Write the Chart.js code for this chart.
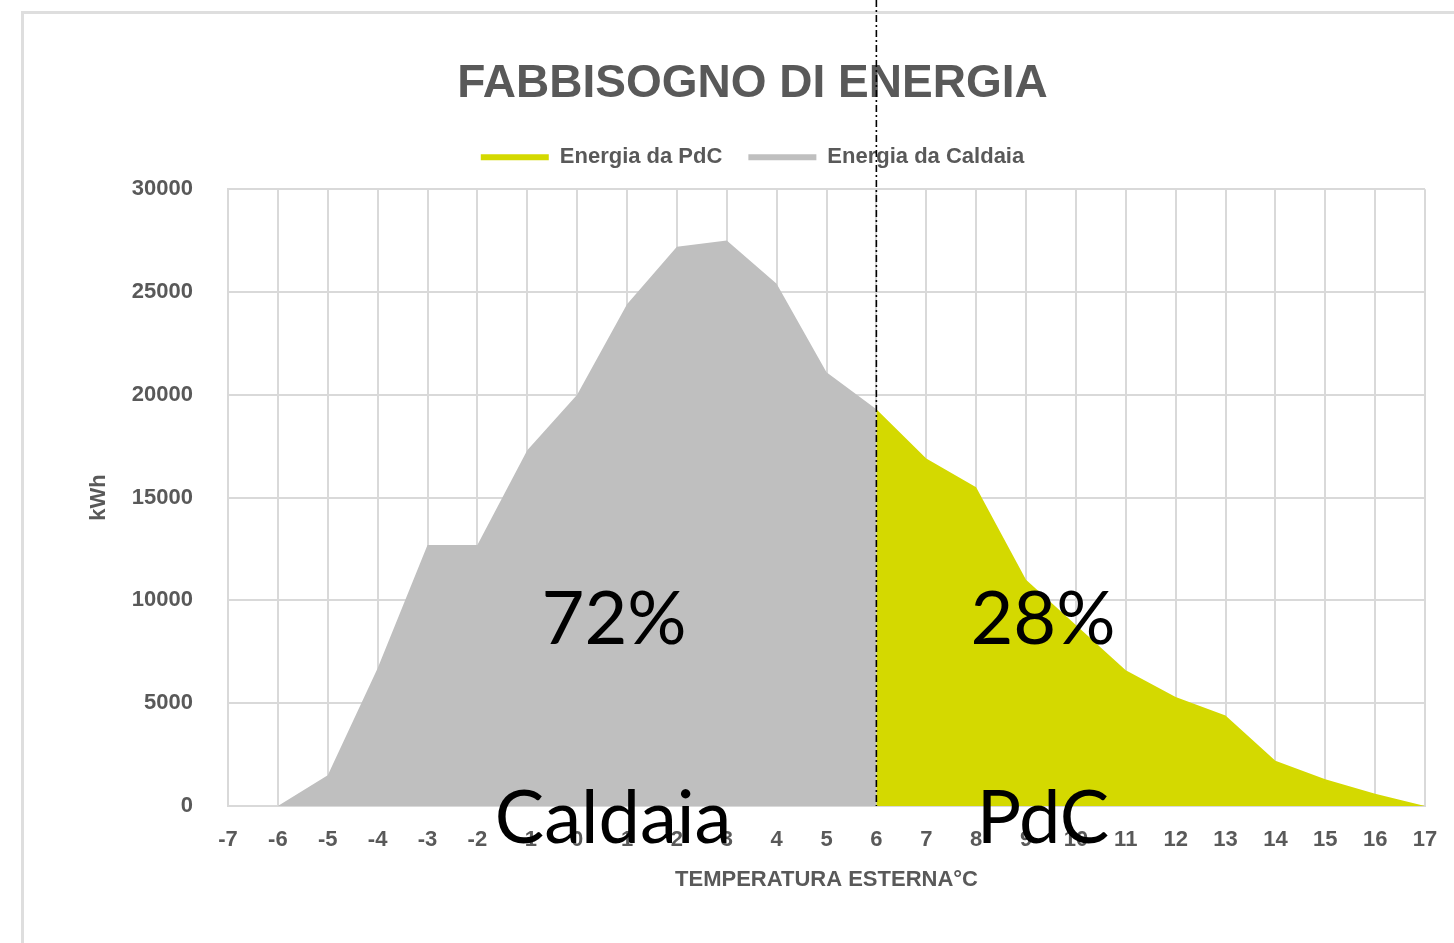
<!DOCTYPE html>
<html>
<head>
<meta charset="utf-8">
<title>Fabbisogno di energia</title>
<script src="https://cdn.jsdelivr.net/npm/chart.js@4.4.1/dist/chart.umd.min.js"></script>
<style>
    html, body { margin: 0; padding: 0; background: #ffffff; }
    #wrap { position: relative; width: 1454px; height: 943px; overflow: hidden; }
    #frame { position: absolute; left: 21px; top: 11px; right: 0; bottom: 0; border-top: 3px solid #dedede; border-left: 3px solid #dedede; }
    #energyChart { position: absolute; left: 0; top: 0; }
</style>
</head>
<body>
<div id="wrap">
    <div id="frame"></div>
    <canvas id="energyChart" width="1454" height="943"></canvas>
</div>
<script>
// temperature classes (°C)
const temperatures = ['-7', '-6', '-5', '-4', '-3', '-2', '-1', '0', '1', '2', '3', '4', '5', '6',
    '7', '8', '9', '10', '11', '12', '13', '14', '15', '16', '17'];

// kWh covered by the boiler (up to 6 °C) and by the heat pump (from 6 °C)
const caldaiaKwh = [0, 0, 1500, 6700, 12700, 12700, 17300, 20000, 24400, 27200, 27500, 25400, 21100, 19300,
    null, null, null, null, null, null, null, null, null, null, null];
const pdcKwh = [null, null, null, null, null, null, null, null, null, null, null, null, null, 19300,
    16900, 15500, 11000, 8800, 6600, 5300, 4400, 2200, 1300, 600, 0];

const yTicks = [0, 5000, 10000, 15000, 20000, 25000, 30000];

// big labels inside the areas: [text, category index, kWh at baseline]
const areaLabels = [
    ['72%', 7.74, 7900],
    ['Caldaia', 7.72, -1800],
    ['28%', 16.34, 7900],
    ['PdC', 16.34, -1800]
];
const splitTemperature = '6';

const GREY_TEXT = '#595959';
const GRID = '#d9d9d9';

const splitLine = {
    id: 'splitLine',
    beforeInit(chart) {
        // taller legend box so the plot starts where the original does
        const fit = chart.legend.fit;
        chart.legend.fit = function () {
            fit.call(this);
            this.height += 11;
        };
    },
    afterDraw(chart) {
        const ctx = chart.ctx;
        const x = chart.scales.x.getPixelForValue(temperatures.indexOf(splitTemperature));
        ctx.save();
        ctx.strokeStyle = '#000000';
        ctx.lineWidth = 1.6;
        ctx.setLineDash([7, 3, 2, 3]);
        ctx.beginPath();
        ctx.moveTo(x, 0);
        ctx.lineTo(x, chart.chartArea.bottom);
        ctx.stroke();
        ctx.setLineDash([]);

        ctx.fillStyle = '#000000';
        ctx.font = '74px Lato';
        ctx.textAlign = 'center';
        ctx.textBaseline = 'alphabetic';
        areaLabels.forEach(l => {
            const px = chart.scales.x.getPixelForValue(l[1]);
            const py = chart.scales.y.getPixelForValue(l[2]);
            ctx.fillText(l[0], px, py);
        });
        ctx.restore();
    }
};

const ctx = document.getElementById('energyChart').getContext('2d');
new Chart(ctx, {
    type: 'line',
    data: {
        labels: temperatures,
        datasets: [
            { label: 'Energia da PdC', data: pdcKwh, backgroundColor: '#d4d900', borderColor: '#d4d900', borderWidth: 0, pointRadius: 0, tension: 0, fill: 'origin' },
            { label: 'Energia da Caldaia', data: caldaiaKwh, backgroundColor: '#bfbfbf', borderColor: '#bfbfbf', borderWidth: 0, pointRadius: 0, tension: 0, fill: 'origin' }
        ]
    },
    options: {
        responsive: false,
        animation: false,
        layout: { padding: { left: 80, right: 29, top: 30, bottom: 40 } },
        scales: {
            x: {
                offset: false,
                grid: { color: GRID, lineWidth: 2, drawTicks: false },
                border: { color: GRID, width: 2 },
                ticks: { color: GREY_TEXT, padding: 21, maxRotation: 0, autoSkip: false, font: { family: 'Liberation Sans', size: 22, weight: 'bold' } },
                title: { display: true, text: 'TEMPERATURA ESTERNA°C', color: GREY_TEXT, padding: { top: 0, bottom: 10 }, font: { family: 'Liberation Sans', size: 22, weight: 'bold' } },
                afterFit(scale) {
                    scale.height = 97;
                    // tick padding is vertical here, keep it out of the side margins
                    scale.paddingLeft = 15;
                    scale.paddingRight = 15;
                }
            },
            y: {
                min: 0,
                max: 30000,
                grid: { color: GRID, lineWidth: 2, drawTicks: false },
                border: { color: GRID, width: 2 },
                afterBuildTicks(scale) { scale.ticks = yTicks.map(v => ({ value: v })); },
                ticks: {
                    color: GREY_TEXT,
                    padding: 35,
                    font: { family: 'Liberation Sans', size: 22, weight: 'bold' },
                    callback: v => String(v)
                },
                title: { display: true, text: 'kWh', color: GREY_TEXT, padding: { top: 6, bottom: 0 }, font: { family: 'Liberation Sans', size: 22, weight: 'bold' } },
                afterFit(scale) { scale.width = 148; }
            }
        },
        plugins: {
            title: {
                display: true,
                text: 'FABBISOGNO DI ENERGIA',
                color: GREY_TEXT,
                padding: { top: 27, bottom: 8 },
                font: { family: 'Liberation Sans', size: 46, weight: 'bold' }
            },
            legend: {
                labels: {
                    color: GREY_TEXT,
                    boxWidth: 68,
                    boxHeight: 6,
                    padding: 26,
                    font: { family: 'Liberation Sans', size: 22, weight: 'bold' }
                }
            },
            tooltip: { enabled: false }
        }
    },
    plugins: [splitLine]
});
</script>
</body>
</html>
